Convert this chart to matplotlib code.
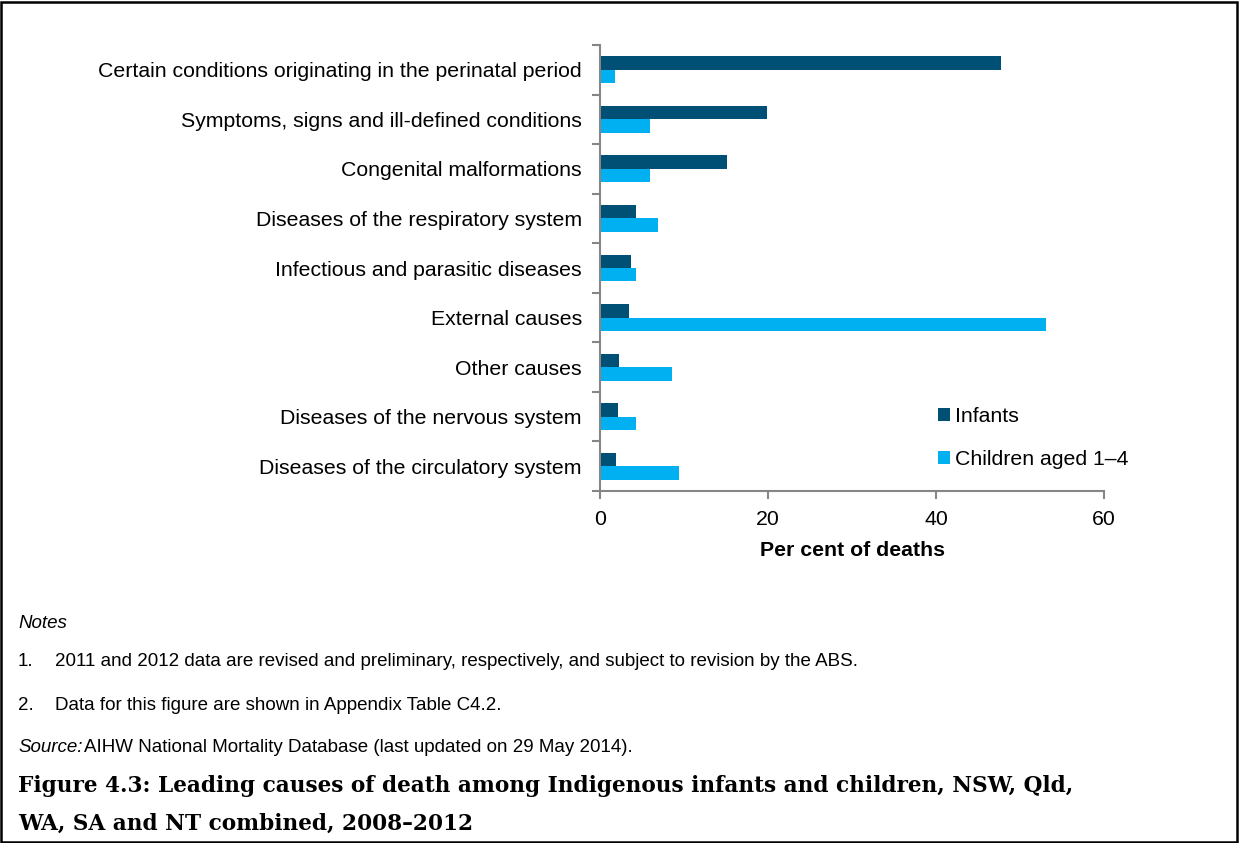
import numpy as np
import matplotlib.pyplot as plt
from matplotlib.patches import Rectangle

causes = [
    "Certain conditions originating in the perinatal period",
    "Symptoms, signs and ill-defined conditions",
    "Congenital malformations",
    "Diseases of the respiratory system",
    "Infectious and parasitic diseases",
    "External causes",
    "Other causes",
    "Diseases of the nervous system",
    "Diseases of the circulatory system",
]
infants = [47.7, 19.9, 15.1, 4.3, 3.7, 3.5, 2.3, 2.1, 1.9]
children = [1.8, 6.0, 6.0, 6.9, 4.3, 53.1, 8.6, 4.3, 9.4]

DARK = '#004F75'
LIGHT = '#00B0F0'
GREY = '#868686'
FS = 15.3

plt.rcParams['font.family'] = ['Liberation Sans', 'DejaVu Sans']

W, H = 1239, 843
fig = plt.figure(figsize=(W / 100, H / 100), dpi=100)

# axes box in pixel terms: x 600..1104, y 45..491
ax = fig.add_axes([600 / W, 1 - 491 / H, 504 / W, 446 / H])

y = np.arange(len(causes))
bh = 0.272
ax.barh(y - bh / 2, infants, height=bh, color=DARK, label='Infants')
ax.barh(y + bh / 2, children, height=bh, color=LIGHT, label='Children aged 1\u20134')

ax.set_ylim(len(causes) - 0.5, -0.5)
ax.set_xlim(0, 60)
ax.set_xticks([0, 20, 40, 60])
ax.set_yticks(y)
ax.set_yticklabels(causes)
ax.set_yticks(np.arange(-0.5, len(causes), 1), minor=True)
ax.tick_params(axis='y', which='major', length=0, pad=13, labelsize=FS)
ax.tick_params(axis='y', which='minor', length=6, width=1.5, color=GREY)
ax.tick_params(axis='x', length=6, width=1.5, color=GREY, labelsize=FS, pad=8)
for side in ['top', 'right']:
    ax.spines[side].set_visible(False)
for side in ['left', 'bottom']:
    ax.spines[side].set_color(GREY)
    ax.spines[side].set_linewidth(1.5)
ax.set_xlabel('Per cent of deaths', fontsize=FS, fontweight='bold', labelpad=8)

ax.legend(loc='lower left', bbox_to_anchor=(0.633, 0.006), frameon=False,
          fontsize=FS, handlelength=0.58, handleheight=0.58, handletextpad=0.22,
          labelspacing=1.15)

# notes, source and caption
NS = 13.5
fig.text(18 / W, 1 - 623 / H, 'Notes', fontsize=NS, style='italic', va='center')
fig.text(18 / W, 1 - 662 / H, '1.', fontsize=NS, va='center')
fig.text(55 / W, 1 - 662 / H,
         '2011 and 2012 data are revised and preliminary, respectively, and subject to revision by the ABS.',
         fontsize=NS, va='center')
fig.text(18 / W, 1 - 705 / H, '2.', fontsize=NS, va='center')
fig.text(55 / W, 1 - 705 / H, 'Data for this figure are shown in Appendix Table C4.2.',
         fontsize=NS, va='center')
fig.text(18 / W, 1 - 747 / H, 'Source:', fontsize=NS, style='italic', va='center')
fig.text(84 / W, 1 - 747 / H, 'AIHW National Mortality Database (last updated on 29 May 2014).',
         fontsize=NS, va='center')
fig.text(18 / W, 1 - 786 / H,
         'Figure 4.3: Leading causes of death among Indigenous infants and children, NSW, Qld,',
         fontsize=15.6, fontweight='bold', family='DejaVu Serif', va='center')
fig.text(18 / W, 1 - 824 / H, 'WA, SA and NT combined, 2008\u20132012',
         fontsize=15.6, fontweight='bold', family='DejaVu Serif', va='center')

# outer frame
fig.add_artist(Rectangle((1 / W, 1.5 / H), (W - 3) / W, (H - 3.5) / H,
                         transform=fig.transFigure, fill=False,
                         edgecolor='black', linewidth=1.8))

fig.savefig('out.png', dpi=100)
